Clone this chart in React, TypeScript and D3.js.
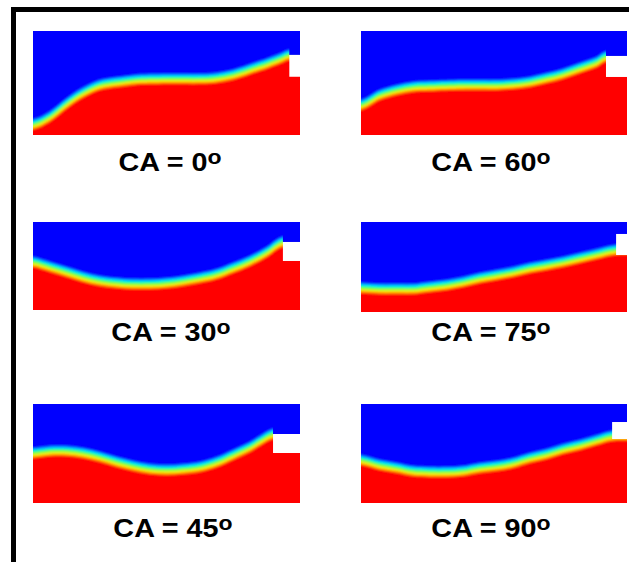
import React from "react";
import * as d3 from "d3";

// Contact angles of the six snapshots
const contactAngles = [0, 30, 45, 60, 75, 90];

// Interface position (x: % of channel length, y: % of channel height from bottom)
const interface0: [number, number][] = [
  [0, 10], [6, 17], [13, 31], [19, 41], [25, 48], [32, 51], [38, 53], [50, 54],
  [63, 54], [69, 55], [75, 58], [81, 63], [88, 69], [93, 74], [96, 77],
];
const interface30: [number, number][] = [
  [0, 54.5], [6.4, 48.9], [12.7, 43.2], [18.7, 37.5], [25.1, 33], [31.5, 30.7],
  [37.5, 29.5], [43.8, 29.5], [50.2, 30.7], [56.2, 33], [62.5, 36.4], [68.9, 40.9],
  [74.9, 47.7], [81.3, 55.7], [87.6, 65.9], [93.4, 77.3],
];
const interface45: [number, number][] = [
  [0, 50.5], [6.4, 52.5], [12.7, 52.5], [18.7, 50.5], [25.1, 46.5], [31.5, 41.4],
  [37.5, 37.4], [43.8, 34.3], [50.2, 33.3], [56.2, 34.3], [62.5, 36.4], [68.9, 41.4],
  [74.9, 48.5], [81.3, 56.6], [86.1, 64.6], [89.9, 69.7],
];
const interface60: [number, number][] = [
  [0, 28.8], [7.1, 38.5], [13.5, 43.3], [19.5, 46.2], [25.9, 47.1], [38.3, 48.1],
  [51.1, 48.1], [57.1, 49], [63.5, 51], [69.9, 54.8], [75.9, 58.7], [82.3, 64.4],
  [88.7, 70.2], [92.1, 75.5],
];
const interface75: [number, number][] = [
  [0, 26.7], [7.1, 25.6], [13.5, 25.6], [19.5, 25.6], [25.9, 27.8], [32.3, 30],
  [38.3, 33.3], [44.7, 37.8], [51.1, 41.1], [57.1, 44.4], [63.5, 48.9], [69.9, 52.2],
  [75.9, 55.6], [82.3, 60], [88.7, 64.4], [95.7, 68.9],
];
const interface90: [number, number][] = [
  [0, 43.4], [7.1, 38.4], [13.5, 35.4], [19.5, 32.3], [25.9, 31.3], [32.3, 31.3],
  [38.3, 32.3], [44.7, 35.4], [51.1, 37.4], [57.1, 40.4], [63.5, 45.5], [69.9, 49.5],
  [75.9, 54.5], [82.3, 58.6], [88.7, 63.6], [94.4, 67.7],
];
const interfaces = [interface0, interface30, interface45, interface60, interface75, interface90];

// Outlet step (white notch) per snapshot: x start, top, bottom (% units)
const notchX = [96, 93.6, 89.9, 92.1, 95.9, 94.4];
const notchTop = [77, 77.3, 69.7, 76, 86.7, 81.8];
const notchBottom = [56, 55.7, 50.5, 55.8, 63.3, 64.6];

// Layout of panels (pixels)
const panelBoxes = [
  { x0: 33, x1: 300, y0: 31, y1: 135, lx: 170, ly: 171 },
  { x0: 33, x1: 300, y0: 222, y1: 310, lx: 171, ly: 341 },
  { x0: 33, x1: 300, y0: 404, y1: 503, lx: 173, ly: 537 },
  { x0: 361, x1: 627, y0: 31, y1: 135, lx: 491, ly: 171 },
  { x0: 361, x1: 627, y0: 222, y1: 312, lx: 491, ly: 341 },
  { x0: 361, x1: 627, y0: 404, y1: 503, lx: 491, ly: 537 },
];

// Jet colour band across the interface (pixel offsets, drawn lowest first)
const bands = [
  { off: 5, color: "#ff8000" },
  { off: 3.4, color: "#ffe600" },
  { off: 1.7, color: "#a8ff30" },
  { off: 0, color: "#20ff60" },
  { off: -1.7, color: "#00f0ff" },
  { off: -3.4, color: "#0080ff" },
  { off: -5, color: "#0000ff" },
];

function Panel({ i }: { i: number }) {
  const box = panelBoxes[i];
  const x = d3.scaleLinear().domain([0, 100]).range([box.x0, box.x1]);
  const y = d3.scaleLinear().domain([0, 100]).range([box.y1, box.y0]);
  const pts = interfaces[i];
  const ext: [number, number][] = [
    [-6, pts[0][1]],
    ...pts,
    [106, pts[pts.length - 1][1]],
  ];
  const clipId = `clip-${i}`;
  const blurId = `blur-${i}`;
  return (
    <g>
      <defs>
        <clipPath id={clipId}>
          <rect x={box.x0} y={box.y0} width={box.x1 - box.x0} height={box.y1 - box.y0} />
        </clipPath>
        <filter id={blurId} x="-10%" y="-10%" width="120%" height="120%">
          <feGaussianBlur stdDeviation={0.9} />
        </filter>
      </defs>
      <g clipPath={`url(#${clipId})`}>
        <g filter={`url(#${blurId})`}>
          <rect
            x={box.x0 - 20}
            y={box.y0 - 20}
            width={box.x1 - box.x0 + 40}
            height={box.y1 - box.y0 + 40}
            fill="#ff0000"
          />
          {bands.map((b, k) => {
            const area = d3
              .area<[number, number]>()
              .x((d) => x(d[0]))
              .y0(box.y0 - 20)
              .y1((d) => y(d[1]) + b.off)
              .curve(d3.curveCatmullRom.alpha(0.5));
            return <path key={k} d={area(ext) || ""} fill={b.color} />;
          })}
        </g>
        <rect
          x={x(notchX[i])}
          y={box.y0}
          width={box.x1 - x(notchX[i]) + 2}
          height={y(notchTop[i]) - box.y0}
          fill="#0000ff"
        />
        <rect
          x={x(notchX[i])}
          y={y(notchTop[i])}
          width={box.x1 - x(notchX[i]) + 2}
          height={y(notchBottom[i]) - y(notchTop[i])}
          fill="#ffffff"
        />
      </g>
      <g transform={`translate(${box.lx},${box.ly}) scale(1.15,1)`}>
        <text
          x={0}
          y={0}
          textAnchor="middle"
          fontFamily="'Liberation Sans', Arial, sans-serif"
          fontWeight="bold"
          fontSize={25}
          fill="#000"
        >
          {`CA = ${contactAngles[i]}`}
          <tspan fontSize={20} dy={-7}>o</tspan>
        </text>
      </g>
    </g>
  );
}

export default function App() {
  return (
    <svg
      width={629}
      height={562}
      style={{ position: "absolute", left: 0, top: 0, background: "#fff" }}
    >
      <rect x={0} y={0} width={629} height={562} fill="#fff" />
      <rect x={13.5} y={9.5} width={800} height={800} fill="none" stroke="#000" strokeWidth={5} />
      {contactAngles.map((_, i) => (
        <Panel key={i} i={i} />
      ))}
    </svg>
  );
}
